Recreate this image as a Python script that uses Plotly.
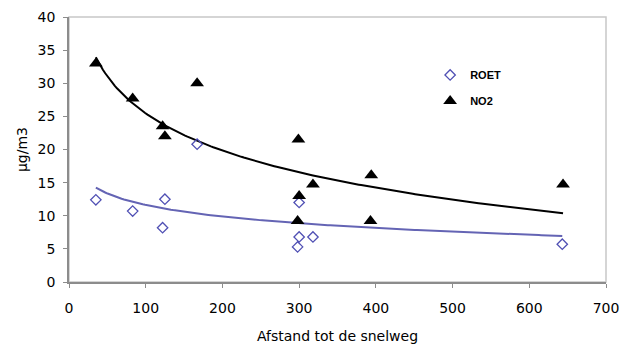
import numpy as np
import plotly.graph_objects as go

# Data
roet_x = [35, 83, 122, 125, 167, 300, 300, 298, 318, 643]
roet_y = [12.4, 10.7, 8.2, 12.5, 20.8, 12.0, 6.8, 5.3, 6.8, 5.7]
no2_x = [35, 83, 122, 125, 167, 299, 300, 318, 298, 394, 393, 644]
no2_y = [33.0, 27.7, 23.5, 22.0, 30.0, 21.5, 13.0, 14.7, 9.2, 16.1, 9.2, 14.7]

x_ticks = [0, 100, 200, 300, 400, 500, 600, 700]
y_ticks = [0, 5, 10, 15, 20, 25, 30, 35, 40]


def log_trend(xs, ys):
    a, b = np.polyfit(np.log(xs), ys, 1)
    xt = np.linspace(min(xs), max(xs), 200)
    return xt, a * np.log(xt) + b


fig = go.Figure()

rx, ry = log_trend(roet_x, roet_y)
nx, ny = log_trend(no2_x, no2_y)

fig.add_trace(go.Scatter(x=rx, y=ry, mode="lines", line=dict(color="#6464b4", width=2),
                         showlegend=False, hoverinfo="skip"))
fig.add_trace(go.Scatter(x=nx, y=ny, mode="lines", line=dict(color="#000000", width=2),
                         showlegend=False, hoverinfo="skip"))

fig.add_trace(go.Scatter(x=roet_x, y=roet_y, mode="markers", name="ROET", legendgroup="a",
                         marker=dict(symbol="diamond-open", size=8, color="#5050b4",
                                     line=dict(width=1.3, color="#5050b4"))))
fig.add_trace(go.Scatter(x=no2_x, y=no2_y, mode="markers", name="NO2", legendgroup="b",
                         marker=dict(symbol="triangle-up", size=12, color="#000000")))

axis_font = dict(family="DejaVu Sans", size=14, color="#000000")
title_font = dict(family="DejaVu Sans", size=14, color="#000000")

fig.update_layout(
    width=622, height=347,
    margin=dict(l=69, r=16, t=17, b=65, autoexpand=False),
    paper_bgcolor="white", plot_bgcolor="white",
    showlegend=True,
    legend=dict(x=0.6725, y=0.836, xanchor="left", yanchor="top",
                font=dict(family="Liberation Sans", size=11, color="#000000", weight="bold"),
                bgcolor="rgba(0,0,0,0)", tracegroupgap=7),
    xaxis=dict(range=[0, 700], tickvals=x_ticks, showgrid=False, zeroline=False,
               showline=True, linecolor="#8c8c8c", linewidth=1.5, ticks="outside",
               ticklen=4, tickcolor="#8c8c8c", tickfont=axis_font, automargin=False,
               ticklabelstandoff=8,
               title=dict(text="Afstand tot de snelweg", font=title_font, standoff=17)),
    yaxis=dict(range=[0, 40], tickvals=y_ticks, showgrid=False, zeroline=False,
               showline=True, linecolor="#8c8c8c", linewidth=1.5, ticks="outside",
               ticklen=4, tickcolor="#8c8c8c", tickfont=axis_font, automargin=False,
               ticklabelstandoff=5,
               title=dict(text="µg/m3", font=title_font, standoff=7)),
    shapes=[dict(type="rect", xref="paper", yref="paper", x0=0, y0=0, x1=1, y1=1,
                 line=dict(color="#c8c8c8", width=1.5), layer="below")],
)

fig.write_html("out.html", config={"displayModeBar": False},
               post_script="document.body.style.margin='0';document.body.style.overflow='hidden';")
